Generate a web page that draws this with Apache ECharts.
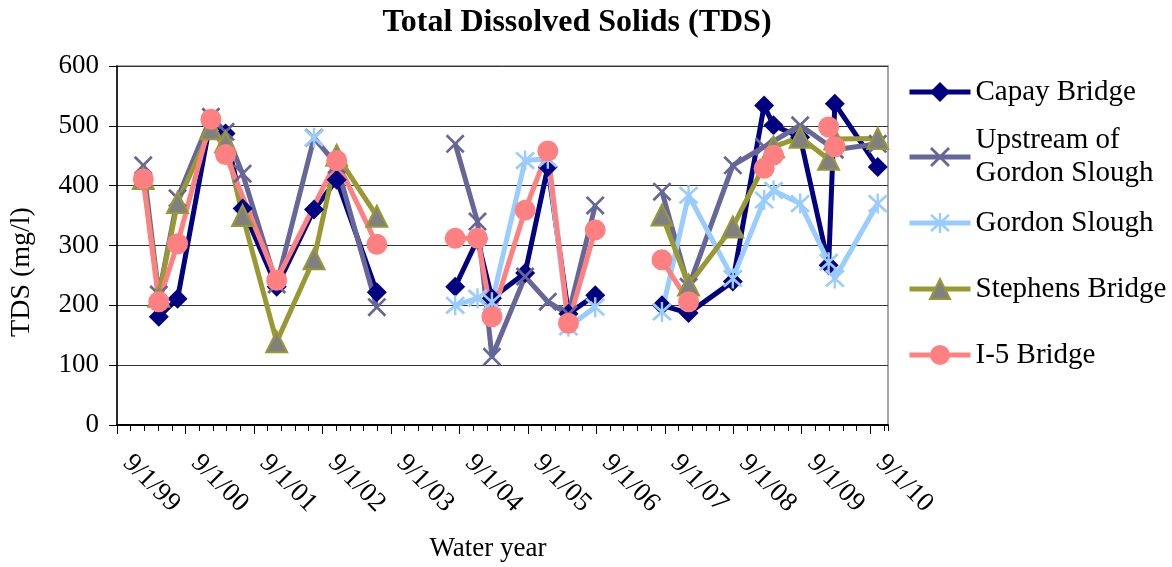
<!DOCTYPE html>
<html>
<head>
<meta charset="utf-8">
<title>Total Dissolved Solids (TDS)</title>
<script src="https://cdn.jsdelivr.net/npm/echarts@6/dist/echarts.min.js"></script>
<style>
  html, body { margin: 0; padding: 0; background: #fff; }
  #chart { width: 1172px; height: 567px; }
</style>
</head>
<body>
<div id="chart"></div>
<script>
// sampling dates (three monitoring campaigns)
const sampleDates = [
  '2000-01-19', '2000-04-11', '2000-07-20', '2001-01-14', '2001-04-02',
  '2001-07-02', '2001-12-31', '2002-07-18', '2002-11-16', '2003-06-18',
  '2004-08-09', '2004-12-06', '2005-02-21', '2005-08-17', '2005-12-16',
  '2006-04-05', '2006-08-26',
  '2007-08-17', '2008-01-06', '2008-08-29', '2009-02-12', '2009-04-03',
  '2009-08-23', '2010-01-22', '2010-02-24', '2010-10-11'
];
// index where a new campaign starts -> line is broken there
const campaignStarts = [10, 17];

// TDS (mg/l); null = not sampled, '-' = gap in the line
const capayBridge = [null, 181, 211, 512, 487, 362, 231, 360, 410, 222,
  231, 310, 212, 254, 431, 186, 217,
  200, 187, 240, 534, 501, 481, 267, 537, 431];
const upstreamGordon = [434, 218, 379, 515, 490, 420, 235, 480, 435, 197,
  470, 340, 114, 248, 206, 185, 367,
  390, 231, 434, 465, null, 501, null, 460, 470];
const gordonSlough = [null, null, null, null, null, null, null, 480, null, null,
  200, 212, 205, 442, 445, 164, 197,
  189, 384, 245, 376, 392, 370, 272, 245, 370];
const stephensBridge = [412, 215, 372, 495, 473, 350, 139, 278, 451, 349,
  null, null, null, null, null, null, null,
  351, 234, 331, null, 465, 481, 444, 478, 479];
const i5Bridge = [411, 206, 303, 511, 452, null, 242, null, 442, 302,
  312, 312, 181, 359, 458, 170, 326,
  276, 206, '-', 429, 451, '-', 498, 465, null];

const yearLabels = ['9/1/99', '9/1/00', '9/1/01', '9/1/02', '9/1/03', '9/1/04',
  '9/1/05', '9/1/06', '9/1/07', '9/1/08', '9/1/09', '9/1/10'];

const FONT = 'Liberation Serif';
const axisStart = Date.UTC(1999, 8, 1);
function toYears(d) {
  return (Date.parse(d) - axisStart) / (365.25 * 864e5);
}
function buildData(values) {
  const out = [];
  values.forEach((v, i) => {
    const x = toYears(sampleDates[i]);
    if (campaignStarts.includes(i)) out.push([x, '-']);
    if (v === null) return;
    out.push([x, v]);
  });
  return out;
}

const xMark = 'path://M0,1L1,0L10,9L9,10ZM9,0L10,1L1,10L0,9Z';
const starMark = 'path://M0,1L1,0L10,9L9,10ZM9,0L10,1L1,10L0,9ZM4.4,-0.5L5.6,-0.5L5.6,10.5L4.4,10.5Z';

const legendBase = {
  orient: 'vertical',
  left: 907,
  padding: 0,
  itemWidth: 61,
  itemHeight: 25,
  itemGap: 0,
  selectedMode: false,
  lineStyle: { width: 5 },
  textStyle: { fontFamily: FONT, fontSize: 29, color: '#000', lineHeight: 33 }
};

const xMax = 11.26;

let myChart = echarts.init(document.getElementById('chart'));
myChart.setOption({
  animation: false,
  backgroundColor: '#fff',
  title: {
    text: 'Total Dissolved Solids (TDS)',
    left: 572,
    top: 2,
    textAlign: 'center',
    textStyle: { fontFamily: FONT, fontSize: 32, fontWeight: 'bold', color: '#000' }
  },
  legend: [
    Object.assign({}, legendBase, { top: 75.5, data: ['Capay Bridge'] }),
    Object.assign({}, legendBase, {
      top: 107.5,
      data: ['Upstream of Gordon Slough'],
      formatter: () => 'Upstream of\nGordon Slough',
      textStyle: Object.assign({}, legendBase.textStyle, { padding: [33, 0, 0, 0] })
    }),
    Object.assign({}, legendBase, { top: 206.5, data: ['Gordon Slough'] }),
    Object.assign({}, legendBase, { top: 272.5, data: ['Stephens Bridge'] }),
    Object.assign({}, legendBase, { top: 338.5, data: ['I-5 Bridge'] })
  ],
  grid: {
    left: 117,
    top: 66,
    width: 771,
    height: 359,
    show: true,
    borderColor: '#a6a6a6',
    borderWidth: 2,
    containLabel: false,
    outerBoundsMode: 'none'
  },
  xAxis: [
    {
      type: 'value',
      position: 'bottom',
      min: 0,
      max: xMax,
      interval: 0.2,
      axisLine: { show: true, lineStyle: { color: '#000', width: 2 } },
      axisTick: { show: true, length: 6, lineStyle: { color: '#000' } },
      axisLabel: { show: false },
      splitLine: { show: false }
    },
    {
      type: 'value',
      position: 'bottom',
      min: 0,
      max: xMax,
      interval: 1,
      axisLine: { show: false },
      axisTick: { show: true, length: 9, lineStyle: { color: '#000' } },
      axisLabel: {
        rotate: -45,
        margin: 24,
        padding: [0, 0, 0, 14],
        showMaxLabel: false,
        fontFamily: FONT,
        fontSize: 27,
        color: '#000',
        formatter: v => (Number.isInteger(v) && yearLabels[v]) ? yearLabels[v] : ''
      },
      splitLine: { show: false }
    }
  ],
  yAxis: {
    type: 'value',
    min: 0,
    max: 600,
    interval: 100,
    axisLine: { show: true, lineStyle: { color: '#000', width: 1.5 } },
    axisTick: { show: true, length: 8, lineStyle: { color: '#000' } },
    axisLabel: { fontFamily: FONT, fontSize: 27, color: '#000', margin: 18 },
    splitLine: { show: true, lineStyle: { color: '#333', width: 1 } }
  },
  graphic: [
    {
      type: 'text',
      x: 22,
      y: 272,
      rotation: Math.PI / 2,
      style: {
        text: 'TDS (mg/l)',
        font: '28px "Liberation Serif"',
        fill: '#000',
        textAlign: 'center',
        textVerticalAlign: 'middle'
      }
    },
    {
      type: 'text',
      x: 488,
      y: 549,
      style: {
        text: 'Water year',
        font: '27px "Liberation Serif"',
        fill: '#000',
        textAlign: 'center',
        textVerticalAlign: 'middle'
      }
    }
  ],
  series: [
    {
      name: 'Capay Bridge',
      type: 'line',
      data: buildData(capayBridge),
      symbol: 'diamond',
      symbolSize: 20,
      showSymbol: true,
      lineStyle: { color: '#000080', width: 5 },
      itemStyle: { color: '#000080' }
    },
    {
      name: 'Upstream of Gordon Slough',
      type: 'line',
      data: buildData(upstreamGordon),
      symbol: xMark,
      symbolSize: 19,
      showSymbol: true,
      lineStyle: { color: '#666699', width: 5 },
      itemStyle: { color: '#666699' }
    },
    {
      name: 'Gordon Slough',
      type: 'line',
      data: buildData(gordonSlough),
      symbol: starMark,
      symbolSize: 20,
      showSymbol: true,
      lineStyle: { color: '#99ccff', width: 5 },
      itemStyle: { color: '#99ccff' }
    },
    {
      name: 'Stephens Bridge',
      type: 'line',
      data: buildData(stephensBridge),
      symbol: 'triangle',
      symbolSize: 21,
      showSymbol: true,
      lineStyle: { color: '#999933', width: 5 },
      itemStyle: { color: '#808080', borderColor: '#999933', borderWidth: 2 }
    },
    {
      name: 'I-5 Bridge',
      type: 'line',
      data: buildData(i5Bridge),
      symbol: 'circle',
      symbolSize: 21,
      showSymbol: true,
      lineStyle: { color: '#ff8080', width: 5 },
      itemStyle: { color: '#ff8080' }
    }
  ]
});
</script>
</body>
</html>
